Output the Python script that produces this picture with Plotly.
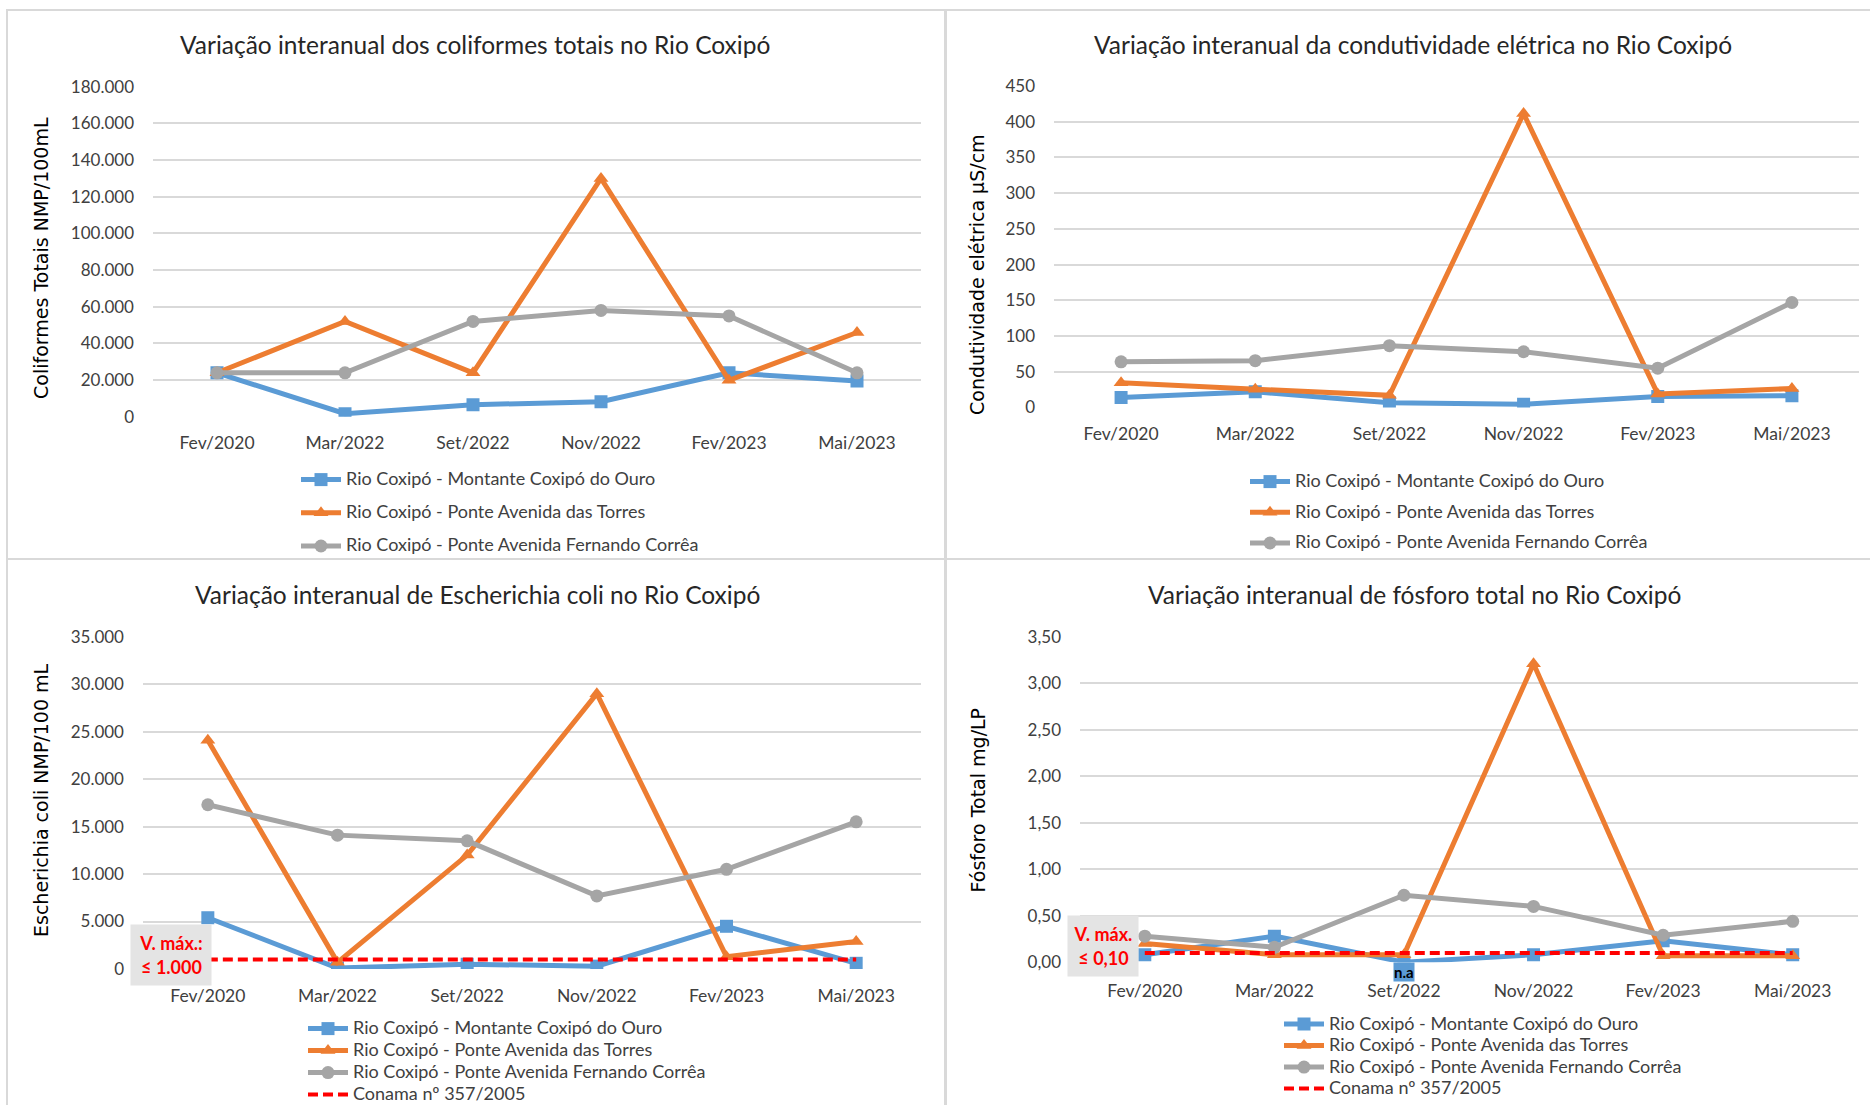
import plotly.graph_objects as go

W, H = 1870, 1105

categories = ["Fev/2020", "Mar/2022", "Set/2022", "Nov/2022", "Fev/2023", "Mai/2023"]
series_names = [
    "Rio Coxipó - Montante Coxipó do Ouro",
    "Rio Coxipó - Ponte Avenida das Torres",
    "Rio Coxipó - Ponte Avenida Fernando Corrêa",
]
conama_name = "Conama nº 357/2005"

# Panel 1: coliformes totais (NMP/100mL)
colif_montante = [24000, 1700, 6600, 8200, 24000, 19500]
colif_torres = [24000, 52000, 24000, 130000, 19900, 46000]
colif_fernando = [24000, 24000, 52000, 58000, 55000, 24000]

# Panel 2: condutividade elétrica (µS/cm)
cond_montante = [14, 22, 6.5, 4.5, 15.5, 16.5]
cond_torres = [34.5, 25.5, 17, 411.5, 19, 26.5]
cond_fernando = [64, 65.5, 86.5, 78, 55, 147]

# Panel 3: Escherichia coli (NMP/100 mL)
ecoli_montante = [5400, 100, 500, 300, 4500, 600]
ecoli_torres = [24100, 700, 12000, 29000, 1300, 2900]
ecoli_fernando = [17300, 14100, 13500, 7700, 10500, 15500]
ecoli_conama = [1000, 1000, 1000, 1000, 1000, 1000]

# Panel 4: fósforo total (mg/L)
fosf_montante = [0.08, 0.28, 0.0, 0.08, 0.23, 0.08]
fosf_torres = [0.20, 0.08, 0.08, 3.21, 0.07, 0.07]
fosf_fernando = [0.28, 0.16, 0.72, 0.60, 0.29, 0.44]
fosf_conama = [0.10, 0.10, 0.10, 0.10, 0.10, 0.10]

titles = [
    "Variação interanual dos coliformes totais no Rio Coxipó",
    "Variação interanual da condutividade elétrica no Rio Coxipó",
    "Variação interanual de Escherichia coli no Rio Coxipó",
    "Variação interanual de fósforo total no Rio Coxipó",
]
ytitles = [
    "Coliformes Totais NMP/100mL",
    "Condutividade elétrica µS/cm",
    "Escherichia coli NMP/100 mL",
    "Fósforo Total mg/LP",
]

BLUE, ORANGE, GRAY, RED = "#5B9BD5", "#ED7D31", "#A5A5A5", "#FF0000"
GRID = "#D9D9D9"
TXT = "#404040"
FONT = "Lato"
AXFONT = "DejaVu Sans"
LEG_SPAN = '<span style="font-size:18px">{}</span>'

fig = go.Figure()

panels = [
    dict(data=[colif_montante, colif_torres, colif_fernando], conama=None),
    dict(data=[cond_montante, cond_torres, cond_fernando], conama=None),
    dict(data=[ecoli_montante, ecoli_torres, ecoli_fernando], conama=ecoli_conama),
    dict(data=[fosf_montante, fosf_torres, fosf_fernando], conama=fosf_conama),
]
colors = [BLUE, ORANGE, GRAY]
symbols = ["square", "triangle-up", "circle"]

for i, p in enumerate(panels):
    n = i + 1
    xa = "x" if n == 1 else f"x{n}"
    ya = "y" if n == 1 else f"y{n}"
    lg = "legend" if n == 1 else f"legend{n}"
    for j, vals in enumerate(p["data"]):
        fig.add_trace(go.Scatter(
            x=categories, y=vals, name=LEG_SPAN.format(series_names[j]),
            mode="lines+markers",
            line=dict(color=colors[j], width=5),
            marker=dict(symbol=symbols[j], size=13, color=colors[j]),
            xaxis=xa, yaxis=ya, legend=lg, legendgroup=f"p{n}s{j}",
        ))
    if p["conama"] is not None:
        fig.add_trace(go.Scatter(
            x=categories, y=p["conama"], name=LEG_SPAN.format(conama_name),
            mode="lines",
            line=dict(color=RED, width=4, dash="10px,5px"),
            xaxis=xa, yaxis=ya, legend=lg, legendgroup=f"p{n}c",
        ))

def px(v):
    return v / W

def py(v):
    return 1 - v / H

# plot area boxes (left, right, top, bottom) in pixels
boxes = [
    (153, 921, 86.8, 416.8),
    (1054, 1859, 86.0, 407.5),
    (143, 921, 636.7, 969.0),
    (1080, 1857.5, 636.7, 962.2),
]
yranges = [[0, 180000], [0, 450], [0, 35000], [0, 3.5]]
dticks = [20000, 50, 5000, 0.5]
tformats = [",d", ",d", ",d", ".2f"]
xstandoff = [14, 14, 14, 16]

layout = dict(
    width=W, height=H, margin=dict(l=0, r=0, t=0, b=0, autoexpand=False),
    paper_bgcolor="white", plot_bgcolor="white",
    separators=",.", showlegend=True,
    font=dict(family=FONT, color=TXT, size=17),
)
for i, (l, r, t, b) in enumerate(boxes):
    n = i + 1
    sx = "" if n == 1 else str(n)
    layout[f"xaxis{sx}"] = dict(
        domain=[px(l), px(r)], anchor=f"y{sx}", type="category",
        categoryorder="array", categoryarray=categories,
        range=[-0.5, 5.5], showgrid=False, zeroline=False,
        showline=False, ticks="", ticklabelstandoff=xstandoff[i],
        tickfont=dict(family=FONT, size=17.5, color=TXT),
    )
    layout[f"yaxis{sx}"] = dict(
        domain=[py(b), py(t)], anchor=f"x{sx}",
        range=yranges[i], dtick=dticks[i], tick0=0, tickformat=tformats[i],
        showgrid=True, gridcolor=GRID, gridwidth=2, zeroline=False,
        showline=False, ticks="", ticklabelstandoff=18,
        tickfont=dict(family=FONT, size=17, color=TXT),
    )

# (legend text left x, first item centre y, gap between items)
legend_pos = [(347, 478, 12), (1296, 480, 9.5), (354, 1027, 0.8), (1330, 1022.5, 0.3)]
for i, (lx, ly, gap) in enumerate(legend_pos):
    n = i + 1
    key = "legend" if n == 1 else f"legend{n}"
    layout[key] = dict(
        x=px(lx - 51), y=py(ly - 14), xanchor="left", yanchor="top",
        bgcolor="rgba(0,0,0,0)", font=dict(family=FONT, size=14, color=TXT),
        tracegroupgap=gap, traceorder="grouped", orientation="v",
        itemwidth=40,
    )

fig.update_layout(**layout)

# titles
title_pos = [(475, 44.6), (1413, 44.6), (477, 594), (1414, 594)]
for txt, (x, y) in zip(titles, title_pos):
    fig.add_annotation(text=txt, x=px(x), y=py(y), xref="paper", yref="paper",
                       showarrow=False, xanchor="center", yanchor="middle",
                       font=dict(family=FONT, size=24.5, color="#262626"))

# y-axis titles
ytitle_pos = [(41, 258), (977, 275), (41, 800), (977.5, 800)]
for txt, (x, y) in zip(ytitles, ytitle_pos):
    fig.add_annotation(text=txt, x=px(x), y=py(y), xref="paper", yref="paper",
                       showarrow=False, textangle=-90, xanchor="center", yanchor="middle",
                       font=dict(family=AXFONT, size=19, color="#000000"))

# V. máx boxes
fig.add_annotation(text="<b>V. máx.:<br>≤ 1.000</b>", x=px(170.5), y=py(955),
                   xref="paper", yref="paper", showarrow=False,
                   xanchor="center", yanchor="middle", align="center",
                   width=74, height=54, bgcolor="#E4E4E4", borderpad=3,
                   font=dict(family=FONT, size=18, color=RED))
fig.add_annotation(text="<b>V. máx.<br>≤ 0,10</b>", x=px(1102.5), y=py(946),
                   xref="paper", yref="paper", showarrow=False,
                   xanchor="center", yanchor="middle", align="center",
                   width=64, height=54, bgcolor="#E4E4E4", borderpad=3,
                   font=dict(family=FONT, size=18, color=RED))

# n.a label for the missing point
fig.add_annotation(text="<b>n.a</b>", x=categories[2], y=fosf_montante[2],
                   xref="x4", yref="y4", showarrow=False,
                   xanchor="center", yanchor="top", bgcolor=BLUE, borderpad=0,
                   font=dict(family=FONT, size=15, color="#000000"))

# panel borders
for (x0, y0, x1, y1) in [(7, 10, 945, 559), (946, 10, 1875, 559),
                         (7, 559, 945, 1110), (946, 559, 1875, 1110)]:
    fig.add_shape(type="rect", xref="paper", yref="paper",
                  x0=px(x0), x1=px(x1), y0=py(y1), y1=py(y0),
                  line=dict(color=GRID, width=2), layer="below")

fig.write_html("out.html", config={"displayModeBar": False},
               post_script="document.body.style.margin='0px';")
